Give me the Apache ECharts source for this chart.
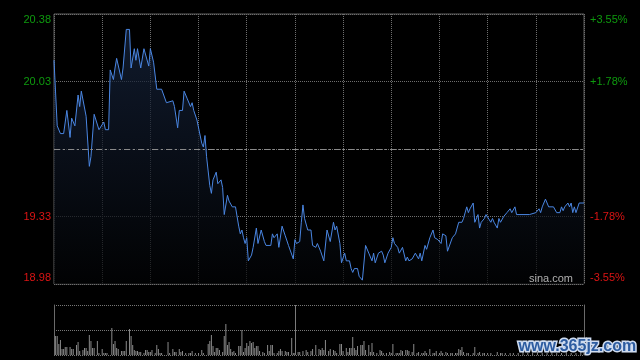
<!DOCTYPE html>
<html><head><meta charset="utf-8">
<style>html,body{margin:0;padding:0;background:#000;}#c{width:640px;height:360px;}</style>
<script src="https://cdn.jsdelivr.net/npm/echarts@6/dist/echarts.min.js"></script>
</head><body><div id="c"></div>
<script>
const prevClose = 19.68;
const leftLabels = ['18.98', '19.33', '', '20.03', '20.38'];
const rightLabels = ['-3.55%', '-1.78%', '', '+1.78%', '+3.55%'];

// minute index (0 = 09:30, 150 = 12:00, 330 = 16:00)
const priceMinutes = [
  0,2,4,6,8,10,11,13,15,16,
  17,20,22,23,25,28,31,32,34,35,
  37,38,39,42,43,44,45,47,48,50,
  51,52,54,55,56,57,59,60,62,64,
  67,70,71,74,75,77,78,80,81,83,
  84,85,86,87,89,90,92,93,94,95,
  97,98,99,101,102,103,104,105,106,108,
  109,110,111,113,115,116,117,118,119,120,
  121,123,124,126,127,128,129,131,132,135,
  136,137,139,140,142,144,146,149,150,151,
  153,154,155,156,158,160,161,163,164,166,
  167,168,170,171,172,173,174,175,176,178,
  179,181,182,184,185,186,187,189,190,191,
  192,194,196,198,199,200,202,204,205,206,
  208,210,211,212,214,215,217,219,220,221,
  223,224,225,227,228,229,231,232,234,236,
  237,239,241,242,244,245,248,250,251,252,
  254,255,256,257,258,259,260,261,262,263,
  264,265,266,267,268,269,270,272,273,274,
  275,276,277,278,279,280,282,283,284,285,
  286,287,288,296,297,300,302,303,304,306,
  307,308,311,313,315,316,317,318,320,321,
  322,323,324,325,327,330
];
const prices = [
  20.14,19.80,19.76,19.76,19.88,19.74,19.84,19.80,19.96,19.90,
  19.98,19.85,19.59,19.64,19.86,19.78,19.82,19.78,19.78,20.09,
  20.04,20.10,20.15,20.04,20.10,20.10,20.30,20.30,20.10,20.20,
  20.14,20.20,20.10,20.10,20.20,20.20,20.11,20.20,20.13,19.99,
  19.99,19.92,19.93,19.93,19.90,19.79,19.88,19.88,19.98,19.94,
  19.93,19.90,19.92,19.88,19.83,19.82,19.71,19.69,19.75,19.64,
  19.49,19.45,19.52,19.56,19.50,19.50,19.52,19.48,19.34,19.44,
  19.41,19.42,19.38,19.38,19.28,19.24,19.26,19.22,19.19,19.22,
  19.10,19.13,19.17,19.27,19.19,19.20,19.26,19.20,19.18,19.18,
  19.24,19.22,19.24,19.17,19.28,19.23,19.18,19.11,19.21,19.19,
  19.20,19.30,19.39,19.32,19.26,19.26,19.18,19.17,19.19,19.15,
  19.16,19.10,19.26,19.26,19.20,19.20,19.30,19.26,19.28,19.19,
  19.09,19.14,19.10,19.10,19.06,19.04,19.06,19.06,19.02,19.02,
  19.00,19.18,19.14,19.10,19.14,19.09,19.14,19.15,19.13,19.09,
  19.14,19.17,19.22,19.19,19.17,19.14,19.17,19.10,19.12,19.10,
  19.11,19.10,19.14,19.11,19.14,19.10,19.18,19.16,19.22,19.26,
  19.22,19.21,19.19,19.24,19.23,19.15,19.22,19.24,19.24,19.30,
  19.30,19.32,19.32,19.38,19.35,19.37,19.38,19.40,19.30,19.30,
  19.34,19.27,19.30,19.30,19.32,19.34,19.33,19.30,19.32,19.30,
  19.30,19.27,19.32,19.30,19.30,19.33,19.35,19.36,19.37,19.35,
  19.34,19.38,19.34,19.34,19.35,19.35,19.37,19.35,19.38,19.42,
  19.41,19.38,19.38,19.35,19.35,19.38,19.36,19.38,19.40,19.38,
  19.40,19.35,19.38,19.35,19.40,19.40
];

const volMinutes = [
  1,2,3,4,5,6,7,8,10,11,
  12,14,15,16,18,19,20,21,22,23,
  24,25,27,28,30,31,32,33,36,37,
  38,39,40,42,43,44,45,47,48,49,
  50,51,52,53,54,56,57,58,59,60,
  61,63,64,65,66,67,71,72,74,75,
  76,78,79,80,82,84,85,86,88,90,
  92,93,96,97,98,99,100,101,102,103,
  105,106,107,108,109,110,111,112,113,115,
  116,117,118,119,120,121,122,123,124,125,
  126,127,128,130,131,133,134,135,136,137,
  139,140,141,142,144,145,146,148,149,150,
  152,153,155,157,158,160,161,163,165,166,
  167,168,169,171,172,174,175,176,178,179,
  180,182,183,184,185,186,187,188,189,191,
  192,193,194,196,197,198,199,201,203,204,
  205,207,209,210,211,213,214,215,216,217,
  219,220,221,223,224,226,227,229,230,231,
  232,234,236,237,238,240,241,242,244,245,
  247,248,250,251,252,253,254,255,257,258,
  261,262,264,265,267,268,270,272,276,278,
  279,281,284,286,289,292,295,298,301,304,
  307,310,313,316,319,322,325,328,330
];
const volumes = [
  19,19,11,15,6,6,8,8,8,6,
  6,10,13,4,5,7,7,4,20,14,
  7,7,14,2,6,2,2,2,27,11,
  14,7,6,4,4,4,14,26,19,10,
  5,4,4,3,3,2,5,5,3,3,
  5,2,10,6,2,2,13,2,6,3,
  3,6,3,4,2,2,2,4,2,2,
  5,2,11,14,20,9,3,7,7,5,
  3,19,31,10,13,6,3,4,2,9,
  9,25,3,7,12,9,14,12,13,7,
  9,9,4,3,2,10,4,10,10,2,
  2,4,6,4,4,3,3,17,2,2,
  3,3,4,5,3,4,6,10,6,5,
  7,5,15,4,6,5,4,2,11,11,
  4,7,3,7,7,18,7,5,9,10,
  10,14,5,10,3,12,3,2,5,4,
  2,2,3,2,11,2,2,2,5,4,
  5,5,4,3,11,2,3,2,2,4,
  2,6,2,2,4,2,4,2,3,2,
  2,2,2,2,6,5,8,3,2,2,
  2,8,2,3,2,2,2,2,3,2,
  2,2,2,2,2,3,2,2,3,2,
  2,3,2,2,3,2,2,3,4
];

// price plotted as offset from previous close, in cents
const priceData = priceMinutes.map((m, i) => [m, Math.round((prices[i] - prevClose) * 100)]);
const volData = volMinutes.map((m, i) => [m, volumes[i]]);

const GREEN = '#0e9a0e', RED = '#dc1414';
const FONT = 'Liberation Sans';
function labelRich() {
  return {
    tg: { color: GREEN, fontFamily: FONT, fontSize: 11, padding: [12, 0, 0, 0] },
    ng: { color: GREEN, fontFamily: FONT, fontSize: 11 },
    nr: { color: RED, fontFamily: FONT, fontSize: 11 },
    br: { color: RED, fontFamily: FONT, fontSize: 11, padding: [0, 0, 12, 0] }
  };
}
function fmt(labels) {
  return function (v) {
    const idx = Math.round((v + 70) / 35);
    const t = labels[idx];
    if (!t) return '';
    const st = idx === 4 ? 'tg' : idx === 3 ? 'ng' : idx === 1 ? 'nr' : 'br';
    return '{' + st + '|' + t + '}';
  };
}
const dotted = { color: '#6e6e6e', width: 1, type: [1, 1] };

const chart = echarts.init(document.getElementById('c'), null, { renderer: 'canvas' });
chart.setOption({
  backgroundColor: '#000',
  animation: false,
  grid: [
    { left: 54, right: 56, top: 14, bottom: 76, show: true, borderColor: '#5e5e5e', borderWidth: 1, backgroundColor: 'transparent' },
    { left: 54, right: 56, top: 305, bottom: 5 }
  ],
  xAxis: [
    { type: 'value', gridIndex: 0, min: 0, max: 330, interval: 30,
      axisLine: { show: false }, axisTick: { show: false }, axisLabel: { show: false },
      splitLine: { show: true, lineStyle: dotted } },
    { type: 'value', gridIndex: 1, min: 0, max: 330, interval: 30,
      axisLine: { show: false }, axisTick: { show: false }, axisLabel: { show: false },
      splitLine: { show: false } }
  ],
  yAxis: [
    { type: 'value', gridIndex: 0, position: 'left', min: -70, max: 70, interval: 35,
      axisLine: { show: false }, axisTick: { show: false },
      axisLabel: { show: true, margin: 3, showMinLabel: true, showMaxLabel: true, formatter: fmt(leftLabels), rich: labelRich() },
      splitLine: { show: true, lineStyle: dotted } },
    { type: 'value', gridIndex: 0, position: 'right', min: -70, max: 70, interval: 35,
      axisLine: { show: false }, axisTick: { show: false },
      axisLabel: { show: true, margin: 6, showMinLabel: true, showMaxLabel: true, formatter: fmt(rightLabels), rich: labelRich() },
      splitLine: { show: false } },
    { type: 'value', gridIndex: 1, position: 'left', min: 0, max: 50, interval: 25,
      axisLine: { show: true, lineStyle: { color: '#6a6a6a' } }, axisTick: { show: false }, axisLabel: { show: false },
      splitLine: { show: true, lineStyle: { color: '#777', width: 1, type: [1, 1] } } },
    { type: 'value', gridIndex: 1, position: 'right', min: 0, max: 50, interval: 25,
      axisLine: { show: true, lineStyle: { color: '#6a6a6a' } }, axisTick: { show: false }, axisLabel: { show: false },
      splitLine: { show: false } }
  ],
  series: [
    { type: 'line', xAxisIndex: 0, yAxisIndex: 0, data: priceData, showSymbol: false, symbol: 'none',
      lineStyle: { color: '#4a86e2', width: 1 },
      areaStyle: { origin: 'start', color: new echarts.graphic.LinearGradient(0, 0, 0, 1, [
        { offset: 0, color: '#17253f' }, { offset: 1, color: '#020304' }]) },
      markLine: { silent: true, symbol: 'none', label: { show: false },
        lineStyle: { color: '#8a8a8a', width: 1, type: [6, 3, 2, 3] },
        data: [{ yAxis: 0 }] } },
    { type: 'bar', xAxisIndex: 1, yAxisIndex: 2, data: volData, barWidth: 1,
      itemStyle: { color: '#8a8a8a' },
      markLine: { silent: true, symbol: 'none', label: { show: false },
        lineStyle: { color: '#7a7a7a', width: 1, type: 'solid' },
        data: [{ xAxis: 150 }] } }
  ],
  graphic: [
    { type: 'text', right: 67, top: 273, z: 10,
      style: { text: 'sina.com', fill: '#b0b0b0', font: '11px "Liberation Sans"' } },
    { type: 'text', left: 517, top: 337, z: 20,
      style: { text: 'www.365jz.com', fill: '#2d5ca0', stroke: '#cfdcf0', lineWidth: 3,
        font: 'bold 16px "Liberation Sans"' } }
  ]
});
</script>
</body></html>
